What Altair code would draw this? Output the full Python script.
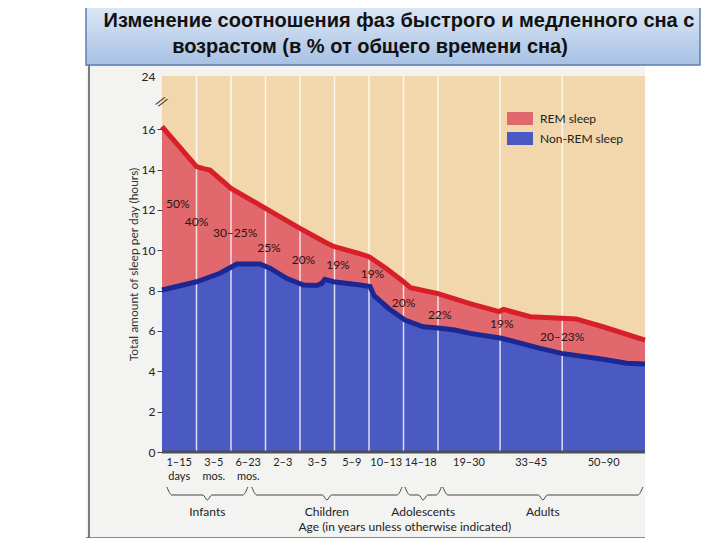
import altair as alt
import pandas as pd

# ---------------- data ----------------
title_lines = ["Изменение соотношения фаз быстрого и медленного сна с",
               "возрастом (в % от общего времени сна)"]

age_labels = ["1–15\ndays", "3–5\nmos.", "6–23\nmos.", "2–3", "3–5", "5–9",
              "10–13", "14–18", "19–30", "33–45", "50–90"]
age_bounds = [0, 1, 2, 3, 4, 5, 6, 7, 8, 9.8, 11.6, 14]

# total sleep (top of REM band), hours
total_x = [0, 0.42, 1.0, 1.2, 1.39, 2.0, 3.0, 4.0, 4.77, 5.0, 5.7, 6.0, 6.5, 7.0,
           7.2, 8.0, 8.9, 9.77, 9.9, 10.67, 11.58, 12.0, 12.78, 14.0]
total_h = [16.13, 15.3, 14.15, 14.05, 13.98, 13.07, 12.08, 11.09, 10.36, 10.18, 9.85,
           9.68, 9.1, 8.44, 8.15, 7.85, 7.37, 6.96, 7.07, 6.71, 6.63, 6.6, 6.21, 5.55]

# non-REM sleep, hours
nrem_x = [0, 1.0, 1.68, 2.17, 2.84, 3.13, 3.61, 4.1, 4.48, 4.63, 4.72, 4.97, 5.74,
          6.03, 6.15, 6.55, 7.04, 7.57, 8.0, 8.49, 8.93, 9.84, 10.96, 11.58, 12.78,
          13.47, 14.0]
nrem_h = [8.03, 8.44, 8.86, 9.32, 9.32, 9.11, 8.61, 8.28, 8.25, 8.36, 8.56, 8.44, 8.28,
          8.2, 7.75, 7.14, 6.54, 6.21, 6.15, 6.05, 5.88, 5.64, 5.14, 4.89, 4.6,
          4.4, 4.36]

pct_labels = ["50%", "40%", "30–25%", "25%", "20%", "19%", "19%", "20%", "22%", "19%", "20–23%"]
pct_x = [0.46, 1.0, 2.12, 3.1, 4.1, 5.1, 6.1, 7.0, 8.05, 9.85, 11.6]
pct_y = [12.3, 11.4, 10.86, 10.1, 9.5, 9.27, 8.8, 7.4, 6.8, 6.35, 5.7]

groups = ["Infants", "Children", "Adolescents", "Adults"]
group_start = [0.14, 2.6, 7.04, 8.14]
group_end = [2.49, 6.96, 8.1, 13.94]

legend_labels = ["REM sleep", "Non-REM sleep"]
legend_colors = ["#e1686c", "#4b59c2"]

y_ticks = [0, 2, 4, 6, 8, 10, 12, 14, 16]
y_title = "Total amount of sleep per day (hours)"

# ---------------- layout ----------------
W, H = 483, 376
YTOP = 18.64          # axis break: the "24" label sits here
FONT = "Lato"
xs = alt.Scale(domain=[0, 14], nice=False, zero=False)
ys = alt.Scale(domain=[0, YTOP], nice=False, zero=False)

yaxis = alt.Axis(values=y_ticks + [YTOP], labelExpr="datum.value > 17 ? '24' : datum.label",
                 domain=False, grid=False, tickSize=5, tickColor="#444", zindex=2,
                 tickOpacity={"condition": {"test": "datum.value > 17", "value": 0}, "value": 1},
                 labelFont=FONT, labelFontSize=12, labelColor="#222", labelPadding=2,
                 titleFont=FONT, titleFontSize=12, titleFontWeight="normal",
                 titleColor="#333", titlePadding=1)


def X(f="x:Q"):
    return alt.X(f, scale=xs, axis=None)


def Y(f="v:Q"):
    return alt.Y(f, scale=ys, axis=yaxis, title=y_title)


def px_to_v(p):
    return (H - p) / H * YTOP


total_df = pd.DataFrame({"x": total_x, "v": total_h, "s": "REM sleep"})
nrem_df = pd.DataFrame({"x": nrem_x, "v": nrem_h, "s": "Non-REM sleep"})
pct_df = pd.DataFrame({"x": pct_x, "v": pct_y, "t": pct_labels})
mid = [(a + b) / 2 for a, b in zip(age_bounds[:-1], age_bounds[1:])]
age_df = pd.DataFrame({"x": mid, "t": age_labels})
rules_df = pd.DataFrame({"x": age_bounds[1:-1], "v": 0.0, "v2": YTOP})
bg_df = pd.DataFrame({"x": [age_bounds[0]], "x2": [age_bounds[-1]], "v": [0.0], "v2": [YTOP]})
grp_df = pd.DataFrame({"x": [(a + b) / 2 for a, b in zip(group_start, group_end)], "t": groups})

brace_rows = []
for g, a, b in zip(groups, group_start, group_end):
    c = (a + b) / 2
    pts = [(a, 411), (a + 0.15, 419), (c - 0.13, 419), (c, 424),
           (c + 0.13, 419), (b - 0.15, 419), (b, 411)]
    for i, (xx, pp) in enumerate(pts):
        brace_rows.append({"g": g, "i": i, "x": xx, "v": px_to_v(pp)})
brace_df = pd.DataFrame(brace_rows)

# ---------------- decoration ----------------
one = pd.DataFrame({"a": [0]})
page = alt.Chart(one).mark_rect(fill="#f3f3f1").encode(
    x=alt.value(-76), x2=alt.value(W), y=alt.value(-12), y2=alt.value(462))
page_left = alt.Chart(one).mark_rule(color="#555", strokeWidth=1.5).encode(
    x=alt.value(-73), y=alt.value(-11), y2=alt.value(464))
page_bottom = alt.Chart(one).mark_rule(color="#666", strokeWidth=1.5).encode(
    x=alt.value(-76), x2=alt.value(W), y=alt.value(462))
page_top = alt.Chart(one).mark_rule(color="#bbb", strokeWidth=1).encode(
    x=alt.value(-76), x2=alt.value(W), y=alt.value(-11))

title_box = alt.Chart(one).mark_rect(
    fill=alt.Gradient(gradient="linear", x1=0, y1=0, x2=0, y2=1,
                      stops=[alt.GradientStop(color="#dde8f6", offset=0),
                             alt.GradientStop(color="#a7c1e4", offset=1)]),
    stroke="#5d7fae", strokeWidth=1.5).encode(
    x=alt.value(-76), x2=alt.value(538), y=alt.value(-71), y2=alt.value(-11))
title1 = alt.Chart(pd.DataFrame({"t": [title_lines[0]]})).mark_text(
    font="Liberation Sans", fontSize=20, fontWeight="bold", color="#111",
    baseline="middle", align="center").encode(
    x=alt.value(237), y=alt.value(-55), text="t:N")
title2 = alt.Chart(pd.DataFrame({"t": [title_lines[1]]})).mark_text(
    font="Liberation Sans", fontSize=20, fontWeight="bold", color="#111",
    baseline="middle", align="center").encode(
    x=alt.value(208), y=alt.value(-29), text="t:N")

# ---------------- plot ----------------
bg = alt.Chart(bg_df).mark_rect(fill="#f1d7ab").encode(
    x=X(), x2="x2:Q", y=Y(), y2="v2:Q")

color_scale = alt.Scale(domain=legend_labels, range=legend_colors)
legend = alt.Legend(orient="none", legendX=345, legendY=29.5, title=None,
                    symbolType="M-1,-0.5H1V0.5H-1Z", symbolSize=676, symbolStrokeWidth=0,
                    symbolOpacity=1, labelFont=FONT, labelFontSize=12, labelColor="#222",
                    labelOffset=7, rowPadding=-4, padding=0, zindex=2)

rem_area = alt.Chart(total_df).mark_area(opacity=1).encode(
    x=X(), y=Y(), color=alt.Color("s:N", scale=color_scale, legend=legend))
nrem_area = alt.Chart(nrem_df).mark_area(opacity=1).encode(
    x=X(), y=Y(), color=alt.Color("s:N", scale=color_scale, legend=legend))

vrules = alt.Chart(rules_df).mark_rule(color="#ffffff", opacity=0.8, strokeWidth=1.5).encode(
    x=X(), y=Y(), y2="v2:Q")

red_line = alt.Chart(total_df).mark_line(color="#d81e29", strokeWidth=5).encode(x=X(), y=Y())
blue_line = alt.Chart(nrem_df).mark_line(color="#1b2894", strokeWidth=5).encode(x=X(), y=Y())

base_rule = alt.Chart(bg_df).mark_rule(color="#4d4f55", strokeWidth=3).encode(
    x=X(), x2="x2:Q", y=Y())

brk = alt.Chart(pd.DataFrame({"x": [0], "v": [px_to_v(27)], "t": ["//"]})).mark_text(
    font=FONT, fontSize=14, color="#333", angle=30, dx=-1).encode(x=X(), y=Y(), text="t:N")

pct = alt.Chart(pct_df).mark_text(font=FONT, fontSize=12, color="#2a1414").encode(
    x=X(), y=Y(), text="t:N")

ages = alt.Chart(age_df).mark_text(font=FONT, fontSize=11, color="#222", baseline="top",
                                   lineBreak="\n", lineHeight=14).encode(
    x=X(), y=alt.value(381), text="t:N")

braces = alt.Chart(brace_df).mark_line(color="#444", strokeWidth=1, interpolate="monotone").encode(
    x=X(), y=Y(), detail="g:N", order="i:Q")

grp = alt.Chart(grp_df).mark_text(font=FONT, fontSize=12, color="#222", baseline="middle").encode(
    x=X(), y=alt.value(436), text="t:N")

age_title = alt.Chart(pd.DataFrame({"x": [7.04], "t": ["Age (in years unless otherwise indicated)"]})).mark_text(
    font=FONT, fontSize=12, color="#222", baseline="middle").encode(
    x=X(), y=alt.value(451), text="t:N")

chart = alt.layer(
    page, page_top, page_left, page_bottom, title_box, title1, title2,
    bg, rem_area, nrem_area, vrules, red_line, blue_line, base_rule, brk,
    pct, ages, braces, grp, age_title
).properties(
    width=W, height=H,
    padding={"left": 154, "top": 68, "right": 60, "bottom": 86},
    autosize=alt.AutoSizeParams(type="none"),
    background="white"
).configure_view(stroke=None)

chart.save("out.html", embed_options={"renderer": "svg", "actions": False})
